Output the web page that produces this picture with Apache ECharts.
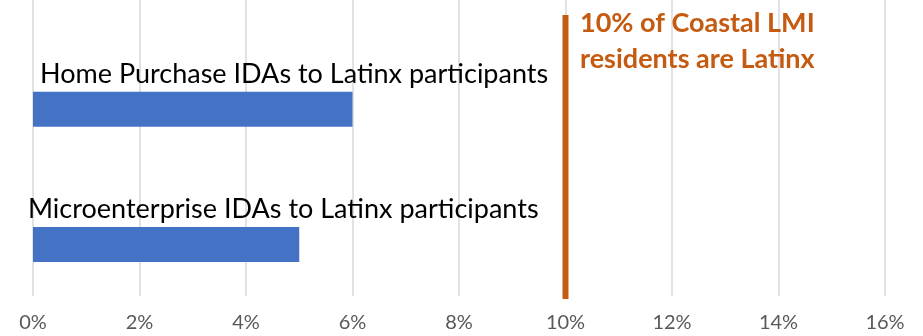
<!DOCTYPE html>
<html>
<head>
<meta charset="utf-8">
<script src="https://cdn.jsdelivr.net/npm/echarts@6/dist/echarts.min.js"></script>
<style>
  html, body { margin: 0; padding: 0; background: #fff; }
  #chart { width: 923px; height: 336px; }
</style>
</head>
<body>
<div id="chart"></div>
<script>
// Share of IDAs going to Latinx participants, in percent
const categories = [
  'Home Purchase IDAs to Latinx participants',
  'Microenterprise IDAs to Latinx participants'
];
const shares = [6, 5];

// Benchmark: Latinx share of coastal LMI residents, in percent
const benchmarkValue = 10;
const benchmarkText = ['10% of Coastal LMI', 'residents are Latinx'];

// Value axis range and step
const axisMin = 0;
const axisMax = 16;
const axisStep = 2;

const orange = '#C55A11';
const blue = '#4472C4';
const textFont = 'Lato, "Open Sans", sans-serif';

// Nudge of each category label relative to the start of its bar
const labelNudge = [7, -5];

const chart = echarts.init(document.getElementById('chart'));

const hiddenValueX = (gridIndex) => ({
  type: 'value', gridIndex, min: axisMin, max: axisMax, interval: axisStep,
  show: false
});

chart.setOption({
  animation: false,
  title: {
    text: benchmarkText.join('\n'),
    left: 580,
    top: 5,
    padding: 0,
    textStyle: {
      color: orange,
      fontFamily: textFont,
      fontWeight: 'bold',
      fontSize: 27,
      lineHeight: 36
    }
  },
  grid: [
    // gridlines and tick labels
    { left: 33, right: 38, top: 0, bottom: 40 },
    // bars
    { left: 33, right: 38, top: 41.5, bottom: 24 },
    // benchmark line
    { left: 33, right: 38, top: 15, bottom: 37 }
  ],
  xAxis: [
    {
      type: 'value', gridIndex: 0, min: axisMin, max: axisMax, interval: axisStep,
      axisLine: { show: false },
      axisTick: { show: false },
      axisLabel: {
        formatter: '{value}%',
        color: '#595959',
        fontFamily: textFont,
        fontSize: 20,
        margin: 17
      },
      splitLine: { show: true, lineStyle: { color: '#d9d9d9', width: 1.5 } }
    },
    hiddenValueX(1),
    hiddenValueX(2)
  ],
  yAxis: [
    { type: 'value', gridIndex: 0, min: 0, max: 1, show: false },
    { type: 'category', gridIndex: 1, data: categories, inverse: true, show: false },
    { type: 'value', gridIndex: 2, min: 0, max: 1, show: false }
  ],
  series: [
    {
      type: 'bar',
      xAxisIndex: 1,
      yAxisIndex: 1,
      barWidth: 35,
      itemStyle: { color: blue },
      data: shares.map((v, i) => ({
        value: v,
        label: {
          show: true,
          position: [labelNudge[i], -4],
          align: 'left',
          verticalAlign: 'bottom',
          formatter: () => categories[i],
          color: '#000',
          fontFamily: textFont,
          fontSize: 27
        }
      }))
    },
    {
      type: 'line',
      xAxisIndex: 2,
      yAxisIndex: 2,
      symbol: 'none',
      lineStyle: { color: orange, width: 6 },
      data: [[benchmarkValue, 0], [benchmarkValue, 1]]
    }
  ]
});
</script>
</body>
</html>
